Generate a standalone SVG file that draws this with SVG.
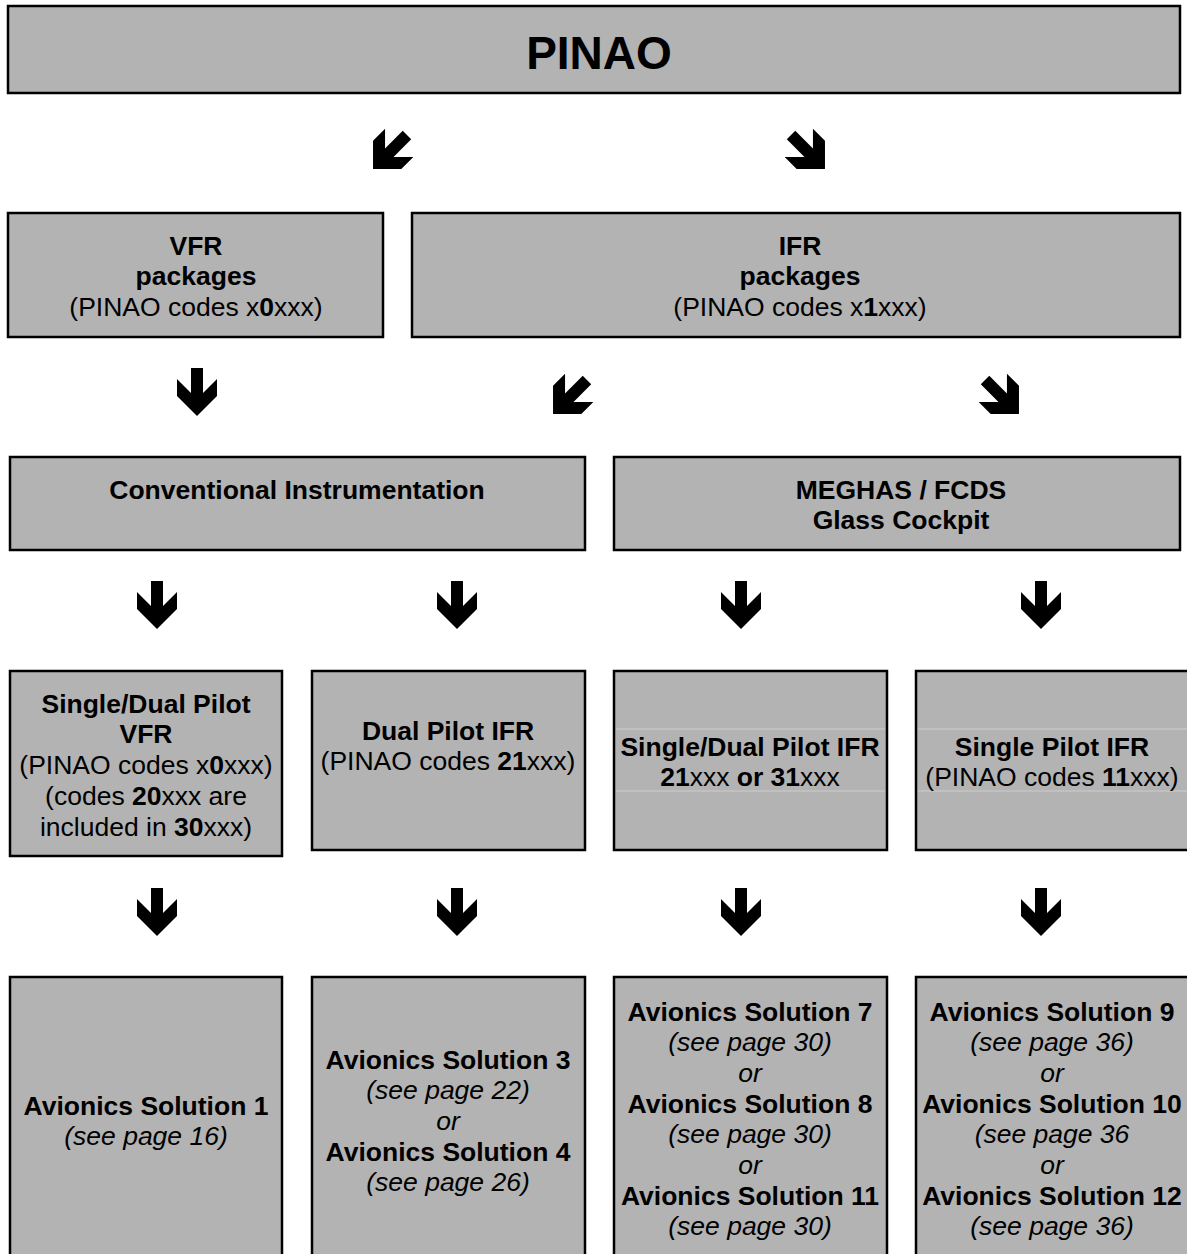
<svg xmlns="http://www.w3.org/2000/svg" width="1187" height="1254" viewBox="0 0 1187 1254">
<style>
.box{fill:#b3b3b3;stroke:#000;stroke-width:2.5}
.sep{stroke:#cdcdcd;stroke-width:1}
text{font-family:"Liberation Sans",Arial,sans-serif;font-size:26.5px;fill:#000;text-anchor:middle}
.b{font-weight:bold}
.i{font-style:italic}
.title{font-size:46px;font-weight:bold}
</style>
<defs>
<polygon id="arr" points="-6,-24 6,-24 6,1 20,-13 20,4 0,24 -20,4 -20,-13 -6,1" fill="#000"/>
</defs>
<rect width="1187" height="1254" fill="#fff"/>
<g id="connectors">
<use href="#arr" transform="translate(390,152) rotate(45)"/>
<use href="#arr" transform="translate(808,152) rotate(-45)"/>
<use href="#arr" transform="translate(197,392)"/>
<use href="#arr" transform="translate(570,397) rotate(45)"/>
<use href="#arr" transform="translate(1002,397) rotate(-45)"/>
<use href="#arr" transform="translate(157,605)"/>
<use href="#arr" transform="translate(457,605)"/>
<use href="#arr" transform="translate(741,605)"/>
<use href="#arr" transform="translate(1041,605)"/>
<use href="#arr" transform="translate(157,912)"/>
<use href="#arr" transform="translate(457,912)"/>
<use href="#arr" transform="translate(741,912)"/>
<use href="#arr" transform="translate(1041,912)"/>
</g>
<g id="pinao">
<rect class="box" x="8" y="6" width="1172" height="87"/>
<text class="title" x="599" y="69">PINAO</text>
</g>
<g id="vfr">
<rect class="box" x="8" y="213" width="375" height="124"/>
<text class="b" x="196" y="254.5">VFR</text>
<text class="b" x="196" y="285.2">packages</text>
<text x="196" y="316">(PINAO codes x<tspan class="b">0</tspan>xxx)</text>
</g>
<g id="ifr">
<rect class="box" x="412" y="213" width="768" height="124"/>
<text class="b" x="800" y="254.5">IFR</text>
<text class="b" x="800" y="285.2">packages</text>
<text x="800" y="316">(PINAO codes x<tspan class="b">1</tspan>xxx)</text>
</g>
<g id="conventional">
<rect class="box" x="10" y="457" width="575" height="93"/>
<text class="b" x="297" y="498.5">Conventional Instrumentation</text>
</g>
<g id="meghas">
<rect class="box" x="614" y="457" width="566" height="93"/>
<text class="b" x="901" y="498.5">MEGHAS / FCDS</text>
<text class="b" x="901" y="529">Glass Cockpit</text>
</g>
<g id="sd-vfr">
<rect class="box" x="10" y="671" width="272" height="185"/>
<text class="b" x="146" y="712.5">Single/Dual Pilot</text>
<text class="b" x="146" y="743">VFR</text>
<text x="146" y="774">(PINAO codes x<tspan class="b">0</tspan>xxx)</text>
<text x="146" y="805">(codes <tspan class="b">20</tspan>xxx are</text>
<text x="146" y="836">included in <tspan class="b">30</tspan>xxx)</text>
</g>
<g id="dual-ifr">
<rect class="box" x="312" y="671" width="273" height="179"/>
<text class="b" x="448" y="739.5">Dual Pilot IFR</text>
<text x="448" y="770">(PINAO codes <tspan class="b">21</tspan>xxx)</text>
</g>
<g id="sd-ifr">
<rect class="box" x="614" y="671" width="273" height="179"/>
<line class="sep" x1="616" y1="729" x2="885" y2="729"/>
<line class="sep" x1="616" y1="791" x2="885" y2="791"/>
<text class="b" x="750" y="755.5">Single/Dual Pilot IFR</text>
<text x="750" y="786"><tspan class="b">21</tspan>xxx <tspan class="b">or 31</tspan>xxx</text>
</g>
<g id="single-ifr">
<rect class="box" x="916" y="671" width="290" height="179"/>
<line class="sep" x1="918" y1="729" x2="1187" y2="729"/>
<line class="sep" x1="918" y1="791" x2="1187" y2="791"/>
<text class="b" x="1052" y="755.5">Single Pilot IFR</text>
<text x="1052" y="786">(PINAO codes <tspan class="b">11</tspan>xxx)</text>
</g>
<g id="sol1">
<rect class="box" x="10" y="977" width="272" height="290"/>
<text class="b" x="146" y="1114.5">Avionics Solution 1</text>
<text class="i" x="146" y="1145">(see page 16)</text>
</g>
<g id="sol34">
<rect class="box" x="312" y="977" width="273" height="290"/>
<text class="b" x="448" y="1068.5">Avionics Solution 3</text>
<text class="i" x="448" y="1099">(see page 22)</text>
<text class="i" x="448" y="1130">or</text>
<text class="b" x="448" y="1160.5">Avionics Solution 4</text>
<text class="i" x="448" y="1191">(see page 26)</text>
</g>
<g id="sol7811">
<rect class="box" x="614" y="977" width="273" height="290"/>
<text class="b" x="750" y="1020.5">Avionics Solution 7</text>
<text class="i" x="750" y="1051">(see page 30)</text>
<text class="i" x="750" y="1082">or</text>
<text class="b" x="750" y="1112.5">Avionics Solution 8</text>
<text class="i" x="750" y="1143">(see page 30)</text>
<text class="i" x="750" y="1174">or</text>
<text class="b" x="750" y="1204.5">Avionics Solution 11</text>
<text class="i" x="750" y="1235">(see page 30)</text>
</g>
<g id="sol91012">
<rect class="box" x="916" y="977" width="290" height="290"/>
<text class="b" x="1052" y="1020.5">Avionics Solution 9</text>
<text class="i" x="1052" y="1051">(see page 36)</text>
<text class="i" x="1052" y="1082">or</text>
<text class="b" x="1052" y="1112.5">Avionics Solution 10</text>
<text class="i" x="1052" y="1143">(see page 36</text>
<text class="i" x="1052" y="1174">or</text>
<text class="b" x="1052" y="1204.5">Avionics Solution 12</text>
<text class="i" x="1052" y="1235">(see page 36)</text>
</g>
</svg>
